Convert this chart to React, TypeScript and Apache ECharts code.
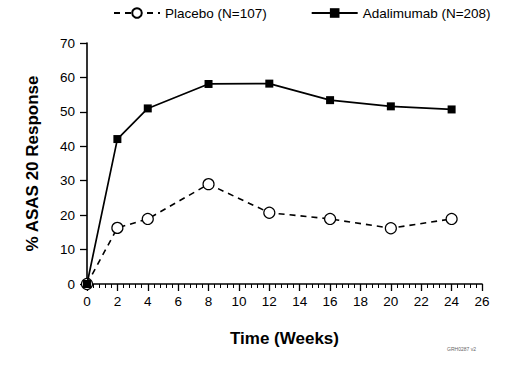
import React, { useEffect, useRef } from "react";
import * as echarts from "echarts";

const weeks = [0, 2, 4, 8, 12, 16, 20, 24];
const placebo = [0, 16.3, 18.9, 29, 20.7, 18.9, 16.2, 18.9];
const adalimumab = [0, 42.1, 51.0, 58.1, 58.2, 53.4, 51.6, 50.7];
const placeboName = "Placebo (N=107)";
const adaName = "Adalimumab (N=208)";
const xTitle = "Time (Weeks)";
const yTitle = "% ASAS 20 Response";
const note = "GRH0287 v2";

const FONT = "'Liberation Sans Narrow', 'Liberation Sans', Arial, sans-serif";

export default function App() {
  const ref = useRef<HTMLDivElement>(null);
  useEffect(() => {
    if (!ref.current) return;
    const chart = echarts.init(ref.current, undefined, { renderer: "svg" });
    chart.setOption({
      animation: false,
      backgroundColor: "#fff",
      textStyle: { fontFamily: FONT },
      legend: {
        top: 1,
        left: 108,
        itemWidth: 46,
        itemHeight: 12,
        itemGap: 44,
        textStyle: { fontSize: 13.5, color: "#000", fontFamily: FONT },
        data: [placeboName, adaName],
      },
      grid: { left: 87, right: 39, top: 43, bottom: 87 },
      xAxis: {
        type: "value",
        min: 0,
        max: 26,
        interval: 2,
        name: xTitle,
        nameLocation: "middle",
        nameGap: 46,
        nameTextStyle: { fontSize: 17, fontWeight: "bold", color: "#000", fontFamily: FONT },
        axisLine: { lineStyle: { color: "#000", width: 1.6 } },
        axisTick: { length: 7, lineStyle: { color: "#000", width: 1.3 } },
        minorTick: { show: true, splitNumber: 5, length: 4, lineStyle: { color: "#000", width: 1 } },
        axisLabel: { fontSize: 13.5, color: "#000", margin: 10 },
        splitLine: { show: false },
        minorSplitLine: { show: false },
      },
      yAxis: {
        type: "value",
        min: 0,
        max: 70,
        interval: 10,
        name: yTitle,
        nameLocation: "middle",
        nameGap: 46,
        nameTextStyle: { fontSize: 17, fontWeight: "bold", color: "#000", fontFamily: FONT },
        axisLine: { show: true, lineStyle: { color: "#000", width: 1.6 } },
        axisTick: { show: true, length: 7, lineStyle: { color: "#000", width: 1.3 } },
        axisLabel: { fontSize: 13.5, color: "#000", margin: 12 },
        splitLine: { show: false },
      },
      graphic: [
        {
          type: "text",
          right: 45,
          top: 346,
          style: { text: note, fontSize: 5, fill: "#666", fontFamily: FONT },
        },
      ],
      series: [
        {
          name: placeboName,
          type: "line",
          data: weeks.map((w, i) => [w, placebo[i]]),
          symbol: "circle",
          symbolSize: 11,
          itemStyle: { color: "#fff", borderColor: "#000", borderWidth: 1.2 },
          lineStyle: { color: "#000", width: 1.6, type: [6, 5] },
          z: 2,
        },
        {
          name: adaName,
          type: "line",
          data: weeks.map((w, i) => [w, adalimumab[i]]),
          symbol: "rect",
          symbolSize: 8,
          itemStyle: { color: "#000" },
          lineStyle: { color: "#000", width: 1.7 },
          z: 3,
        },
      ],
    });
    return () => chart.dispose();
  }, []);
  return <div ref={ref} style={{ width: 521, height: 371, position: "absolute", left: 0, top: 0 }} />;
}
